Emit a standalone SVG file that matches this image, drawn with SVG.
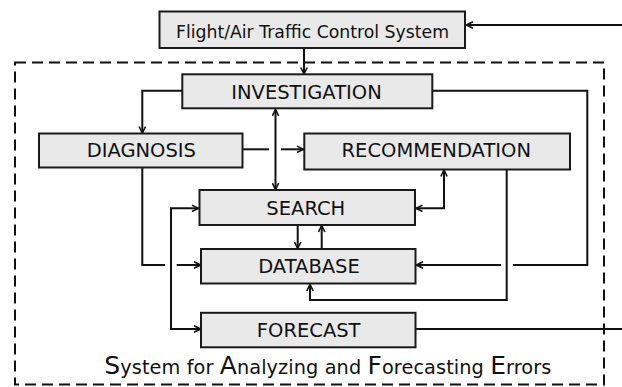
<svg xmlns="http://www.w3.org/2000/svg" width="622" height="387" viewBox="0 0 622 387">
<style>
.box{fill:#e9e9e9;stroke:#1a1a1a;stroke-width:2}
.lbl{font-family:"DejaVu Sans",Verdana,sans-serif;font-size:19.5px;fill:#111;text-anchor:middle}
.con{fill:none;stroke:#111;stroke-width:2}
.arr{marker-end:url(#ah)}
.dbl{marker-start:url(#ah);marker-end:url(#ah)}
.cap{font-size:25px}
</style>
<defs>
<marker id="ah" viewBox="0 0 8 8" refX="7.5" refY="4" markerWidth="8" markerHeight="8" markerUnits="userSpaceOnUse" orient="auto-start-reverse">
<path d="M1,0.8 L7.5,4 L1,7.2" fill="none" stroke="#111" stroke-width="1.6"/>
</marker>
</defs>
<rect x="15" y="62.5" width="589" height="322" fill="none" stroke="#111" stroke-width="2" stroke-dasharray="11,6"/>
<g id="connectors">
<path class="con arr" d="M304,48.5 V74"/>
<path class="con arr" d="M622,25 H466.5"/>
<path class="con arr" d="M182,90.7 H142.3 V133"/>
<path class="con" d="M432.5,90.7 H587.3 V265 H513"/>
<path class="con arr" d="M501,265 H416.5"/>
<path class="con dbl" d="M275.5,109.5 V189.5"/>
<path class="con" d="M242.5,149.3 H269"/>
<path class="con arr" d="M281,149.3 H303.5"/>
<path class="con" d="M142.3,167.5 V265 H165"/>
<path class="con arr" d="M176.7,265 H200.5"/>
<path class="con dbl" d="M198.5,208.3 H171 V329 H200.5"/>
<path class="con dbl" d="M444,170 V208.3 H416"/>
<path class="con arr" d="M297.7,225.5 V248.5"/>
<path class="con arr" d="M321.7,248.5 V225.5"/>
<path class="con arr" d="M506.7,169.5 V300 H310 V284.5"/>
<path class="con" d="M415.5,329 H622"/>
</g>
<g id="atc">
<rect class="box" x="159.5" y="11.5" width="305.5" height="36.5"/>
<text class="lbl" x="312.5" y="37.7" style="font-size:17.3px">Flight/Air Traffic Control System</text>
</g>
<g id="investigation">
<rect class="box" x="182.3" y="74.3" width="250" height="34"/>
<text class="lbl" x="306.5" y="99">INVESTIGATION</text>
</g>
<g id="diagnosis">
<rect class="box" x="39" y="133.5" width="203.5" height="34"/>
<text class="lbl" x="141.3" y="156.7">DIAGNOSIS</text>
</g>
<g id="recommendation">
<rect class="box" x="304.3" y="133.5" width="265.7" height="36"/>
<text class="lbl" x="436.3" y="156.7">RECOMMENDATION</text>
</g>
<g id="search">
<rect class="box" x="199.5" y="190" width="215.5" height="35"/>
<text class="lbl" x="305.8" y="215">SEARCH</text>
</g>
<g id="database">
<rect class="box" x="201" y="249" width="214.5" height="34.5"/>
<text class="lbl" x="309" y="273.3">DATABASE</text>
</g>
<g id="forecast">
<rect class="box" x="201" y="312.8" width="214.5" height="34.5"/>
<text class="lbl" x="308.7" y="336.7">FORECAST</text>
</g>
<text x="104.3" y="374.3" textLength="447" lengthAdjust="spacing" style="font-family:'DejaVu Sans',Verdana,sans-serif;font-size:19.3px;fill:#111"><tspan class="cap">S</tspan>ystem for <tspan class="cap">A</tspan>nalyzing and <tspan class="cap">F</tspan>orecasting <tspan class="cap">E</tspan>rrors</text>
</svg>
